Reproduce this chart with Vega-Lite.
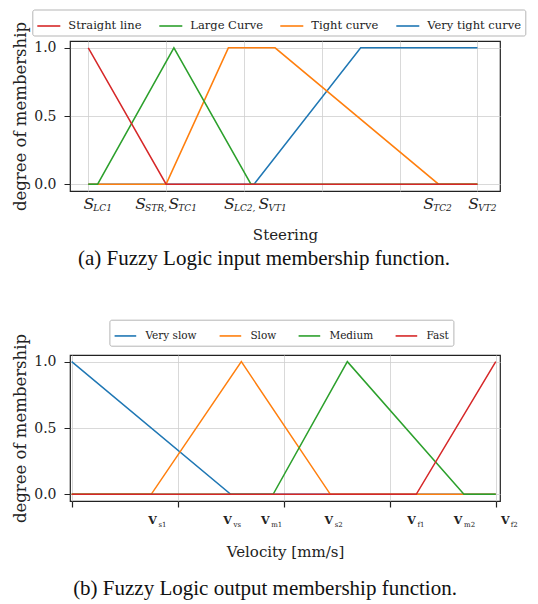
{
  "$schema": "https://vega.github.io/schema/vega-lite/v6.json",
  "padding": {"left": 12, "top": 8, "right": 0, "bottom": 0},
  "spacing": 48,
  "resolve": {"scale": {"color": "independent"}, "legend": {"color": "independent"}},
  "config": {
    "view": {"stroke": "#222", "strokeWidth": 1.2},
    "font": "DejaVu Serif",
    "axis": {"labelFont": "DejaVu Serif", "titleFont": "DejaVu Serif", "labelColor": "#222", "titleColor": "#222", "titleFontWeight": "normal", "gridColor": "#cfcfcf", "gridWidth": 0.8, "domain": false, "tickColor": "#222"},
    "legend": {"labelFont": "DejaVu Serif", "labelColor": "#222", "symbolType": "stroke", "symbolStrokeWidth": 1.6, "strokeColor": "#b5b5b5", "fillColor": "white", "cornerRadius": 2, "direction": "horizontal", "columns": 4, "orient": "none", "title": null}
  },
  "datasets": {
    "input": [
      {"series": "Very tight curve", "x": 0, "y": 0},
      {"series": "Very tight curve", "x": 21.3, "y": 0},
      {"series": "Very tight curve", "x": 35, "y": 1},
      {"series": "Very tight curve", "x": 50, "y": 1},
      {"series": "Tight curve", "x": 0, "y": 0},
      {"series": "Tight curve", "x": 10, "y": 0},
      {"series": "Tight curve", "x": 18, "y": 1},
      {"series": "Tight curve", "x": 24, "y": 1},
      {"series": "Tight curve", "x": 45, "y": 0},
      {"series": "Tight curve", "x": 50, "y": 0},
      {"series": "Large Curve", "x": 0, "y": 0},
      {"series": "Large Curve", "x": 1.2, "y": 0},
      {"series": "Large Curve", "x": 11, "y": 1},
      {"series": "Large Curve", "x": 20.9, "y": 0},
      {"series": "Large Curve", "x": 50, "y": 0},
      {"series": "Straight line", "x": 0, "y": 1},
      {"series": "Straight line", "x": 10, "y": 0},
      {"series": "Straight line", "x": 50, "y": 0}
    ],
    "output": [
      {"series": "Very slow", "x": 0, "y": 1},
      {"series": "Very slow", "x": 1.5, "y": 0},
      {"series": "Very slow", "x": 4, "y": 0},
      {"series": "Slow", "x": 0, "y": 0},
      {"series": "Slow", "x": 0.75, "y": 0},
      {"series": "Slow", "x": 1.6, "y": 1},
      {"series": "Slow", "x": 2.44, "y": 0},
      {"series": "Slow", "x": 4, "y": 0},
      {"series": "Medium", "x": 0, "y": 0},
      {"series": "Medium", "x": 1.9, "y": 0},
      {"series": "Medium", "x": 2.6, "y": 1},
      {"series": "Medium", "x": 3.7, "y": 0},
      {"series": "Medium", "x": 4, "y": 0},
      {"series": "Fast", "x": 0, "y": 0},
      {"series": "Fast", "x": 3.25, "y": 0},
      {"series": "Fast", "x": 4, "y": 1}
    ]
  },
  "vconcat": [
    {
      "width": 430,
      "height": 150,
      "title": {"text": "(a) Fuzzy Logic input membership function.", "orient": "bottom", "font": "Liberation Serif", "fontSize": 21, "fontWeight": "normal", "color": "#111", "anchor": "middle", "dx": -21, "offset": 6},
      "data": {"name": "input"},
      "layer": [
        {
          "mark": {"type": "line", "strokeWidth": 1.5},
          "encoding": {
            "x": {"field": "x", "type": "quantitative", "scale": {"domain": [-2.35, 52.9], "nice": false, "zero": false},
              "axis": {"orient": "bottom", "values": [0, 10, 20, 30, 40, 50], "grid": true, "labels": false, "ticks": false, "title": "Steering", "titleFont": "DejaVu Serif", "titleFontSize": 15, "titlePadding": 36}},
            "y": {"field": "y", "type": "quantitative", "scale": {"domain": [-0.05, 1.05], "nice": false, "zero": false},
              "axis": {"values": [0, 0.5, 1], "format": ".1f", "grid": true, "tickSize": 6, "labelFont": "DejaVu Serif", "labelFontSize": 14, "labelPadding": 8, "title": "degree of membership", "titleFont": "DejaVu Serif", "titleFontSize": 16.5, "titlePadding": 5}},
            "color": {"field": "series", "type": "nominal",
              "scale": {"domain": ["Straight line", "Large Curve", "Tight curve", "Very tight curve"], "range": ["#d62728", "#2ca02c", "#ff7f0e", "#1f77b4"]},
              "legend": {"legendX": -37.7, "legendY": -31.5, "symbolSize": 529, "labelFont": "DejaVu Serif", "labelFontSize": 11.5, "labelOffset": 7, "columnPadding": 13, "padding": 4}}
          }
        },
        {
          "mark": {"type": "point", "opacity": 0},
          "encoding": {
            "x": {"field": "x", "type": "quantitative",
              "axis": {"orient": "bottom", "values": [0.0, 6.64, 10.92, 18.07, 22.5, 43.67, 49.45], "labelExpr": "'S'", "grid": false, "ticks": false, "tickSize": 0, "labelFont": "DejaVu Serif", "labelFontSize": 15.5, "labelFontStyle": "italic", "labelBaseline": "alphabetic", "labelPadding": 17, "labelFlush": false, "labelOverlap": false, "labelBound": false, "title": null}},
            "y": {"field": "y", "type": "quantitative"}
          }
        },
        {
          "mark": {"type": "point", "opacity": 0},
          "encoding": {
            "x": {"field": "x", "type": "quantitative",
              "axis": {"orient": "bottom", "values": [0.0, 6.64, 10.92, 18.07, 22.5, 43.67, 49.45], "labelExpr": "datum.value < 3 ? 'LC1' : datum.value < 8 ? 'STR,' : datum.value < 15 ? 'TC1' : datum.value < 20 ? 'LC2,' : datum.value < 30 ? 'VT1' : datum.value < 46 ? 'TC2' : 'VT2'", "grid": false, "ticks": false, "tickSize": 0, "labelFont": "DejaVu Serif", "labelFontSize": 9, "labelFontStyle": "italic", "labelAlign": "left", "labelOffset": 4.5, "labelBaseline": "alphabetic", "labelPadding": 19, "labelFlush": false, "labelOverlap": false, "labelBound": false, "title": null}},
            "y": {"field": "y", "type": "quantitative"}
          }
        }
      ],
      "resolve": {"axis": {"x": "independent"}}
    },
    {
      "width": 430,
      "height": 146,
      "title": {"text": "(b) Fuzzy Logic output membership function.", "orient": "bottom", "font": "Liberation Serif", "fontSize": 21, "fontWeight": "normal", "color": "#111", "anchor": "middle", "dx": -20, "offset": 18},
      "data": {"name": "output"},
      "layer": [
        {
          "mark": {"type": "line", "strokeWidth": 1.5},
          "encoding": {
            "x": {"field": "x", "type": "quantitative", "scale": {"domain": [-0.016, 4.04], "nice": false, "zero": false},
              "axis": {"orient": "bottom", "values": [0, 1, 2, 3, 4], "grid": true, "labels": false, "ticks": true, "tickSize": 6, "tickWidth": 1.2, "title": "Velocity [mm/s]", "titleFont": "DejaVu Serif", "titleFontSize": 15, "titlePadding": 37}},
            "y": {"field": "y", "type": "quantitative", "scale": {"domain": [-0.05, 1.05], "nice": false, "zero": false},
              "axis": {"values": [0, 0.5, 1], "format": ".1f", "grid": true, "tickSize": 6, "labelFont": "DejaVu Serif", "labelFontSize": 14, "labelPadding": 8, "title": "degree of membership", "titleFont": "DejaVu Serif", "titleFontSize": 16.5, "titlePadding": 5}},
            "color": {"field": "series", "type": "nominal",
              "scale": {"domain": ["Very slow", "Slow", "Medium", "Fast"], "range": ["#1f77b4", "#ff7f0e", "#2ca02c", "#d62728"]},
              "legend": {"legendX": 39.4, "legendY": -35.3, "symbolSize": 467, "labelFont": "DejaVu Serif", "labelFontSize": 10.5, "labelOffset": 8, "columnPadding": 18, "padding": 4}}
          }
        },
        {
          "mark": {"type": "point", "opacity": 0},
          "encoding": {
            "x": {"field": "x", "type": "quantitative",
              "axis": {"orient": "bottom", "values": [0.757, 1.466, 1.82, 2.42, 3.2, 3.64, 4.0], "labelExpr": "'V'", "grid": false, "ticks": false, "tickSize": 0, "labelFont": "DejaVu Serif", "labelFontSize": 11, "labelFontWeight": "bold", "labelBaseline": "alphabetic", "labelPadding": 22, "labelOffset": {"condition": {"test": "datum.value > 3.9", "value": 9}, "value": 0}, "labelFlush": false, "labelOverlap": false, "labelBound": false, "title": null}},
            "y": {"field": "y", "type": "quantitative"}
          }
        },
        {
          "mark": {"type": "point", "opacity": 0},
          "encoding": {
            "x": {"field": "x", "type": "quantitative",
              "axis": {"orient": "bottom", "values": [0.757, 1.466, 1.82, 2.42, 3.2, 3.64, 4.0], "labelExpr": "datum.value < 1 ? 's1' : datum.value < 1.6 ? 'vs' : datum.value < 2 ? 'm1' : datum.value < 3 ? 's2' : datum.value < 3.4 ? 'f1' : datum.value < 3.8 ? 'm2' : 'f2'", "grid": false, "ticks": false, "tickSize": 0, "labelFont": "DejaVu Serif", "labelFontSize": 7, "labelAlign": "left", "labelOffset": {"condition": {"test": "datum.value > 3.9", "value": 14.5}, "value": 6}, "labelBaseline": "alphabetic", "labelPadding": 25, "labelFlush": false, "labelOverlap": false, "labelBound": false, "title": null}},
            "y": {"field": "y", "type": "quantitative"}
          }
        }
      ],
      "resolve": {"axis": {"x": "independent"}}
    }
  ]
}
